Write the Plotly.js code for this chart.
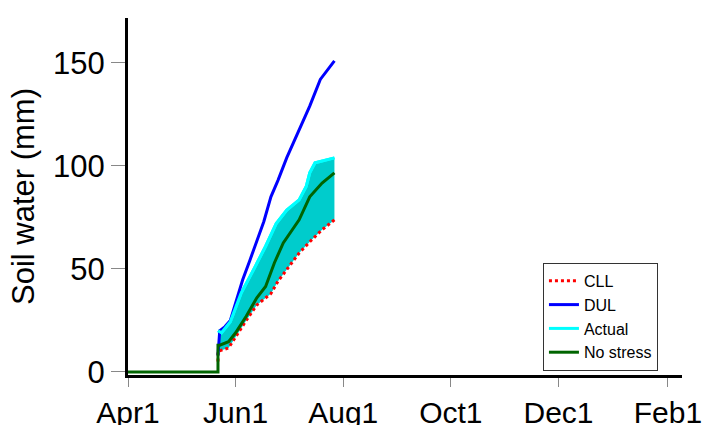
<!DOCTYPE html>
<html>
<head>
<meta charset="utf-8">
<script src="https://cdn.plot.ly/plotly-3.0.1.min.js"></script>
<style>html,body{margin:0;padding:0;background:#fff;}#chart{width:702px;height:425px;}</style>
</head>
<body>
<div id="chart"></div>
<script>
// CLL (lower limit)
const cllDates = ['2000-05-22','2000-05-22','2000-05-28','2000-06-01','2000-06-07','2000-06-13','2000-06-21','2000-06-25','2000-06-30','2000-07-07','2000-07-14','2000-07-20','2000-07-27'];
const cllValues = [5,10,11.6,17,25,32.5,38,44,49.5,57.7,64,69,73.8];

// DUL (upper limit)
const dulDates = ['2000-05-22','2000-05-23','2000-05-26','2000-05-29','2000-06-01','2000-06-05','2000-06-09','2000-06-13','2000-06-17','2000-06-21','2000-06-25','2000-06-30','2000-07-07','2000-07-13','2000-07-19','2000-07-27'];
const dulValues = [8,20,22,25,33.5,44.7,54,64,73,85,93,104,117,129,142,151];

// Actual (upper edge of shaded band; lower edge is CLL)
const actualDates = ['2000-05-22','2000-05-24','2000-05-29','2000-06-04','2000-06-12','2000-06-18','2000-06-24','2000-06-30','2000-07-07','2000-07-11','2000-07-13','2000-07-16','2000-07-27'];
const actualValues = [20,19,24.4,38,51,61,72,78.6,83.5,90,96.6,101.5,103.9];

// No stress
const noStressDates = ['2000-04-01','2000-05-22','2000-05-22','2000-05-23','2000-05-28','2000-06-01','2000-06-07','2000-06-13','2000-06-18','2000-06-23','2000-06-28','2000-07-03','2000-07-07','2000-07-13','2000-07-20','2000-07-27'];
const noStressValues = [0,0,13,13,14.7,19,27,36,41.5,53,62.6,69,73.8,85,91.7,96.6];

// Axis ticks
const tickDates = ['2000-04-01','2000-06-01','2000-08-01','2000-10-01','2000-12-01','2001-02-01'];
const tickLabels = ['Apr1','Jun1','Aug1','Oct1','Dec1','Feb1'];
const yTicks = [0,50,100,150];

const traces = [
  {x: cllDates, y: cllValues, mode:'lines', line:{width:0, color:'rgba(0,0,0,0)'}, showlegend:false, hoverinfo:'skip'},
  {x: actualDates, y: actualValues, mode:'lines', fill:'tonexty', fillcolor:'#00CCCC', line:{color:'#00FFFF', width:3}, showlegend:false, hoverinfo:'skip'},
  {x: cllDates, y: cllValues, name:'CLL', mode:'lines', line:{color:'#FF0000', width:3, dash:'dot'}},
  {x: dulDates, y: dulValues, name:'DUL', mode:'lines', line:{color:'#0000FF', width:3}},
  {x: actualDates, y: actualValues, name:'Actual', mode:'lines', line:{color:'#00FFFF', width:3}},
  {x: noStressDates, y: noStressValues, name:'No stress', mode:'lines', line:{color:'#006400', width:3}}
];

const layout = {
  width:702, height:425,
  margin:{l:128, r:20, t:18, b:50},
  paper_bgcolor:'#fff', plot_bgcolor:'#fff',
  font:{family:'"Liberation Sans", Arial, sans-serif', color:'#000'},
  showlegend:true,
  legend:{x:0.749, y:0.314, xanchor:'left', yanchor:'top', traceorder:'normal', bordercolor:'#333', borderwidth:1, bgcolor:'#fff', font:{size:16, color:'#000'}, tracegroupgap:0, itemwidth:30},
  xaxis:{type:'date', range:['2000-04-01','2001-02-09'], tickvals:tickDates, ticktext:tickLabels,
         showgrid:false, zeroline:false, showline:true, linecolor:'#000', linewidth:3,
         ticks:'outside', ticklen:9, tickcolor:'#888', tickwidth:1, tickfont:{size:30}, ticklabeloverflow:'allow'},
  yaxis:{range:[-1.5,171.8], tickvals:yTicks, showgrid:false, zeroline:false, showline:true, linecolor:'#000', linewidth:3,
         ticks:'outside', ticklen:14, tickcolor:'#888', tickwidth:1, tickfont:{size:31},
         title:{text:'Soil water (mm)', font:{size:31}, standoff:10}}
};

Plotly.newPlot('chart', traces, layout, {displayModeBar:false, staticPlot:true});
</script>
</body>
</html>
